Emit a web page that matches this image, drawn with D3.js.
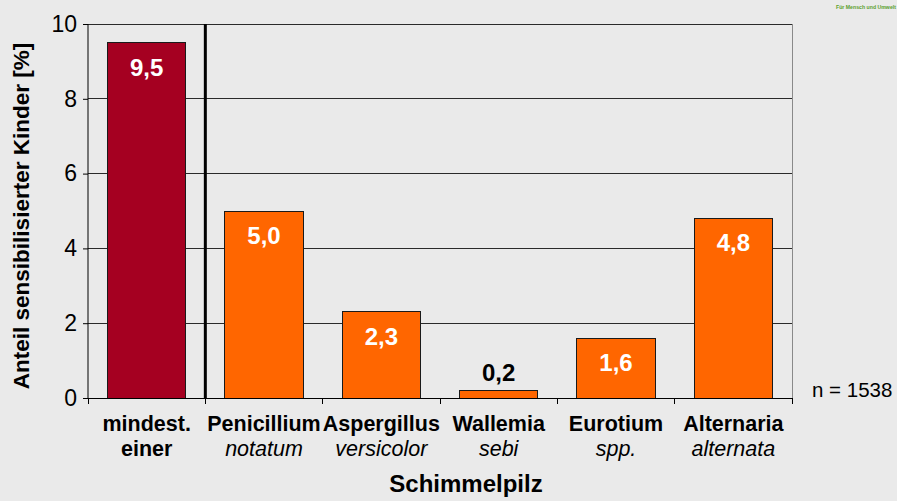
<!DOCTYPE html>
<html><head><meta charset="utf-8">
<script src="https://cdn.jsdelivr.net/npm/d3@7"></script>
<style>
html,body{margin:0;padding:0;background:#eaeaea;}
svg{display:block;}
svg text{font-family:"Liberation Sans",Arial,sans-serif;}
</style></head>
<body>
<svg id="chart" width="897" height="501"></svg>
<script>
const categories = ["mindest.", "Penicillium", "Aspergillus", "Wallemia", "Eurotium", "Alternaria"];
const subLabels = ["einer", "notatum", "versicolor", "sebi", "spp.", "alternata"];
const subItalic = [false, true, true, true, true, true];
const values = [9.5, 5.0, 2.3, 0.2, 1.6, 4.8];
const valueLabels = ["9,5", "5,0", "2,3", "0,2", "1,6", "4,8"];
const barColors = ["#a50021", "#ff6600", "#ff6600", "#ff6600", "#ff6600", "#ff6600"];
const yTicks = [0, 2, 4, 6, 8, 10];

(function () {
const FONT = "Liberation Sans, Arial, sans-serif";
const svg = d3.select("#chart");
const W = 897, H = 501;
const pL = 88, pR = 792, pT = 24, pB = 398;

svg.append("rect").attr("width", W).attr("height", H).attr("fill", "#eaeaea");

const x = d3.scaleBand().domain(categories).range([pL, pR]).padding(0);
const y = d3.scaleLinear().domain([0, 10]).range([pB, pT]);
const barW = x.bandwidth() * 0.665;

// gridlines
svg.append("g").selectAll("line").data(yTicks.filter(d => d > 0)).join("line")
  .attr("x1", pL).attr("x2", pR)
  .attr("y1", d => y(d)).attr("y2", d => y(d))
  .attr("stroke", "#2a2a2a").attr("stroke-width", 1).attr("shape-rendering", "crispEdges");

// right border
svg.append("line").attr("x1", pR).attr("x2", pR).attr("y1", pT).attr("y2", pB)
  .attr("stroke", "#8a8a8a").attr("stroke-width", 1).attr("shape-rendering", "crispEdges");

// bars
svg.append("g").selectAll("rect").data(values).join("rect")
  .attr("x", (d, i) => x(categories[i]) + (x.bandwidth() - barW) / 2)
  .attr("width", barW)
  .attr("y", d => y(d))
  .attr("height", d => pB - y(d))
  .attr("fill", (d, i) => barColors[i])
  .attr("stroke", "#1a1a1a").attr("stroke-width", 1).attr("shape-rendering", "crispEdges");

// separator
svg.append("line")
  .attr("x1", x(categories[1])).attr("x2", x(categories[1]))
  .attr("y1", pT).attr("y2", pB)
  .attr("stroke", "#000").attr("stroke-width", 3);

// y axis
const yAxis = d3.axisLeft(y).tickValues(yTicks).tickSize(5).tickPadding(6).tickFormat(d3.format("d"));
const gy = svg.append("g").attr("transform", `translate(${pL},0)`).call(yAxis);
gy.select(".domain").attr("stroke", "#000").attr("d", `M0,${pT}V${pB}`);
gy.selectAll(".tick line").attr("stroke", "#000");
gy.selectAll(".tick text").attr("font-size", 23).attr("fill", "#000").attr("font-family", FONT);

// x axis baseline and ticks at category boundaries
const boundaries = categories.map(c => x(c)).concat([pR]);
svg.append("line").attr("x1", pL).attr("x2", pR).attr("y1", pB).attr("y2", pB)
  .attr("stroke", "#000").attr("shape-rendering", "crispEdges");
svg.append("g").selectAll("line").data(boundaries).join("line")
  .attr("x1", d => d).attr("x2", d => d).attr("y1", pB).attr("y2", pB + 6)
  .attr("stroke", "#000").attr("shape-rendering", "crispEdges");

// value labels
svg.append("g").selectAll("text").data(values).join("text")
  .attr("x", (d, i) => x(categories[i]) + x.bandwidth() / 2)
  .attr("y", d => (pB - y(d) > 40) ? y(d) + 33 : y(d) - 10)
  .attr("text-anchor", "middle").attr("font-family", FONT)
  .attr("font-size", 24).attr("font-weight", "bold")
  .attr("fill", d => (pB - y(d) > 40) ? "#fff" : "#000")
  .text((d, i) => valueLabels[i]);

// category labels
const gl = svg.append("g");
categories.forEach((c, i) => {
  const cx = x(c) + x.bandwidth() / 2;
  gl.append("text").attr("x", cx).attr("y", 431).attr("text-anchor", "middle").attr("font-family", FONT)
    .attr("font-size", 21.5).attr("font-weight", "bold").attr("fill", "#000").text(c);
  gl.append("text").attr("x", cx).attr("y", 456).attr("text-anchor", "middle").attr("font-family", FONT)
    .attr("font-size", 21.5)
    .attr("font-weight", subItalic[i] ? "normal" : "bold")
    .attr("font-style", subItalic[i] ? "italic" : "normal")
    .attr("fill", "#000").text(subLabels[i]);
});

// axis titles
svg.append("text").attr("x", 466).attr("y", 492).attr("text-anchor", "middle").attr("font-family", FONT)
  .attr("font-size", 24).attr("font-weight", "bold").attr("fill", "#000").text("Schimmelpilz");
svg.append("text").attr("transform", "translate(29,216) rotate(-90)").attr("text-anchor", "middle")
  .attr("font-family", FONT)
  .attr("font-size", 22.5).attr("font-weight", "bold").attr("fill", "#000")
  .text("Anteil sensibilisierter Kinder [%]");

// sample size
svg.append("text").attr("x", 812).attr("y", 397).attr("font-family", FONT)
  .attr("font-size", 20.5).attr("fill", "#000").text("n = 1538");

// logo text
svg.append("text").attr("x", 836).attr("y", 9).attr("font-family", FONT)
  .attr("font-size", 5.2).attr("font-weight", "bold")
  .attr("fill", "#5aa02c").text("Für Mensch und Umwelt");
})();
</script>
</body></html>
